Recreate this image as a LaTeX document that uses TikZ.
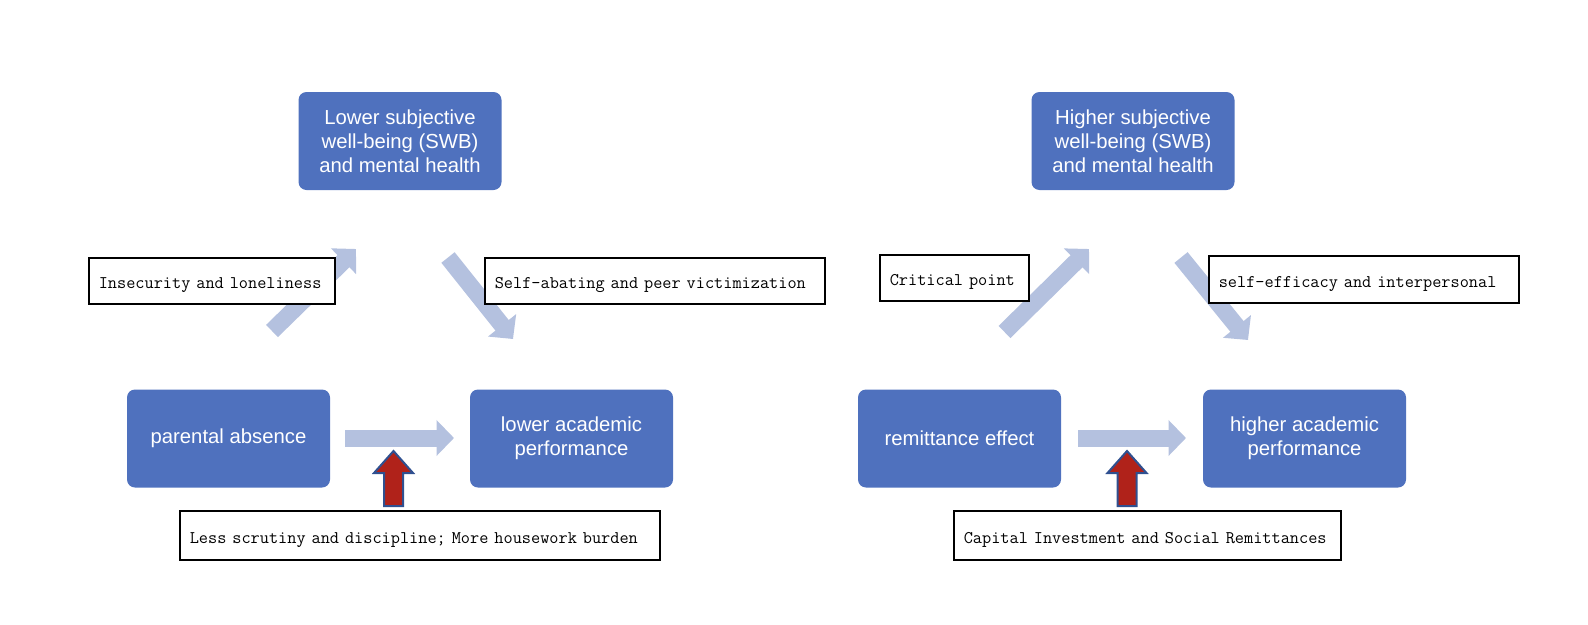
\documentclass[tikz,border=0pt]{standalone}
\usepackage{fontspec}
\setsansfont{Liberation Sans}
\usetikzlibrary{arrows.meta}
\definecolor{boxblue}{HTML}{4F71BE}
\definecolor{lightarrow}{HTML}{B4C1DF}
\definecolor{redfill}{HTML}{B0221A}
\definecolor{redborder}{HTML}{2F5090}
\tikzset{
  bluebox/.style={fill=boxblue, rounded corners=8pt, minimum width=203pt, minimum height=98pt,
    text=white, font=\sffamily\fontsize{20.3}{24}\selectfont, align=center, inner sep=0pt},
  labelbox/.style={draw=black, line width=1.5pt, fill=white,
    font=\ttfamily\fontsize{17.8}{22}\selectfont, align=left, inner xsep=10pt, inner ysep=0pt,
    text height=15pt, text depth=0pt, anchor=west},
  blockarrow/.style={draw=lightarrow, line width=17pt,
    -{Triangle[length=17.5pt,width=35pt]}},
  redarrow/.style={fill=redfill, draw=redborder, line width=2pt, line join=miter}
}
\begin{document}
\begin{tikzpicture}[x=1pt,y=-1pt]
\useasboundingbox (0,0) rectangle (1588,624);
% arrow endpoints
\coordinate (a1s) at (272,331);    \coordinate (a1e) at (356,249);
\coordinate (a2s) at (448,257.5);  \coordinate (a2e) at (513,339);
\coordinate (a3s) at (345,438);    \coordinate (a3e) at (454,438);
\coordinate (b1s) at (1004.5,332); \coordinate (b1e) at (1089,249);
\coordinate (b2s) at (1181,257.5); \coordinate (b2e) at (1248,340);
\coordinate (b3s) at (1078,438);   \coordinate (b3e) at (1186,438);
\coordinate (r1) at (393.5,506);
\coordinate (r2) at (1127,506);
% light block arrows
\draw[blockarrow] (a1s) -- (a1e);
\draw[blockarrow] (a2s) -- (a2e);
\draw[blockarrow] (a3s) -- (a3e);
\draw[blockarrow] (b1s) -- (b1e);
\draw[blockarrow] (b2s) -- (b2e);
\draw[blockarrow] (b3s) -- (b3e);
% blue boxes
\node[bluebox] (lswb) at (400,141) {Lower subjective\\well-being (SWB)\\and mental health};
\node[bluebox] (pa) at (228.5,438.5) {parental absence};
\node[bluebox] (lap) at (571.5,438.5) {lower academic\\performance};
\node[bluebox] (hswb) at (1133,141) {Higher subjective\\well-being (SWB)\\and mental health};
\node[bluebox] (re) at (959.5,438.5) {remittance effect};
\node[bluebox] (hap) at (1304.5,438.5) {higher academic\\performance};
% label boxes
\node[labelbox, text width=226pt, minimum height=46pt] (l1) at (88,281) {Insecurity and loneliness};
\node[labelbox, text width=320pt, minimum height=46pt] (l2) at (484,281) {Self-abating and peer victimization};
\node[labelbox, text width=460pt, minimum height=49pt] (l3) at (179,535.5) {Less scrutiny and discipline; More housework burden};
\node[labelbox, text width=129pt, minimum height=46pt] (r1l) at (879,278) {Critical point};
\node[labelbox, text width=290pt, minimum height=47pt] (r2l) at (1208,279.5) {self-efficacy and interpersonal};
\node[labelbox, text width=367pt, minimum height=49pt] (r3l) at (953,535.5) {Capital Investment and Social Remittances};
% red arrows
\draw[redarrow] (r1) ++(-9.5,0) -- ++(0,-33) -- ++(-10,0) -- ++(19.5,-22) -- ++(19.5,22) -- ++(-10,0) -- ++(0,33) -- cycle;
\draw[redarrow] (r2) ++(-9.5,0) -- ++(0,-33) -- ++(-10,0) -- ++(19.5,-22) -- ++(19.5,22) -- ++(-10,0) -- ++(0,33) -- cycle;
\end{tikzpicture}
\end{document}
